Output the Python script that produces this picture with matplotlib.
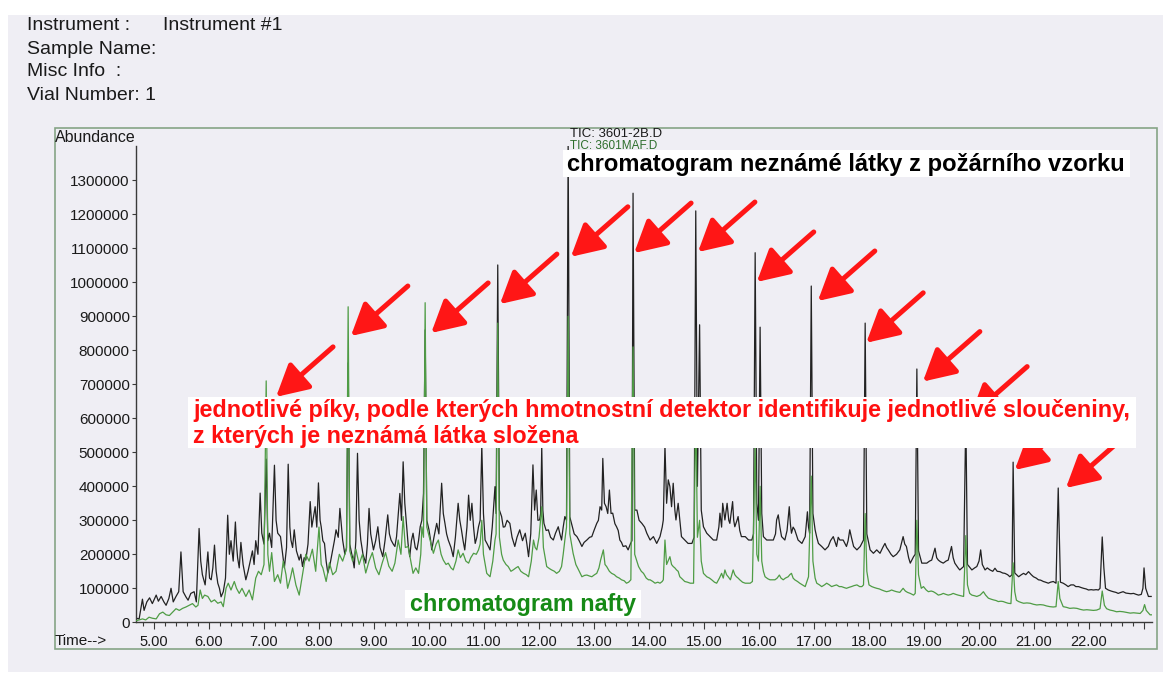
import matplotlib
matplotlib.use('Agg')
import matplotlib.pyplot as plt
from matplotlib.patches import Rectangle
from matplotlib.ticker import MultipleLocator
import numpy as np

W, H = 1163, 684
plt.rcParams['font.family'] = ['Liberation Sans', 'DejaVu Sans']

# ---------------- data ----------------
header_lines = ["Instrument :", "Sample Name:", "Misc Info  :", "Vial Number: 1"]
instrument_name = "Instrument #1"
y_ticks = [0, 100000, 200000, 300000, 400000, 500000, 600000, 700000,
           800000, 900000, 1000000, 1100000, 1200000, 1300000]
x_major = [5, 6, 7, 8, 9, 10, 11, 12, 13, 14, 15, 16, 17, 18, 19, 20, 21, 22, 23]
x_labels = ["5.00", "6.00", "7.00", "8.00", "9.00", "10.00", "11.00", "12.00",
            "13.00", "14.00", "15.00", "16.00", "17.00", "18.00", "19.00",
            "20.00", "21.00", "22.00", ""]

# TIC of the unknown sample (black): (time [min], abundance [thousands])
black_trace = [
    (4.68, 12), (4.73, 10), (4.79, 68), (4.82, 35), (4.87, 60), (4.92, 72), (4.97, 55),
    (5.04, 80), (5.08, 62), (5.13, 76), (5.18, 60), (5.22, 50), (5.27, 70), (5.31, 100),
    (5.35, 60), (5.40, 76), (5.45, 90), (5.49, 207), (5.53, 90), (5.58, 75), (5.62, 65),
    (5.67, 85), (5.73, 90), (5.77, 60), (5.82, 276), (5.85, 180), (5.88, 140), (5.93, 110),
    (5.98, 207), (6.01, 130), (6.04, 125), (6.07, 160), (6.10, 227), (6.13, 150), (6.16, 115),
    (6.19, 100), (6.22, 75), (6.26, 90), (6.30, 130), (6.34, 315), (6.37, 200), (6.40, 240),
    (6.44, 180), (6.48, 295), (6.50, 230), (6.52, 190), (6.55, 160), (6.58, 235), (6.62, 170),
    (6.67, 125), (6.71, 150), (6.75, 180), (6.79, 210), (6.82, 170), (6.85, 240), (6.89, 200),
    (6.93, 380), (6.96, 262), (7.00, 230), (7.04, 480), (7.07, 240), (7.10, 262), (7.14, 220),
    (7.19, 462), (7.22, 300), (7.25, 262), (7.30, 252), (7.34, 200), (7.37, 160), (7.41, 220),
    (7.44, 465), (7.47, 280), (7.49, 242), (7.52, 220), (7.55, 272), (7.59, 210), (7.64, 183),
    (7.67, 200), (7.70, 164), (7.73, 190), (7.76, 183), (7.80, 230), (7.84, 355), (7.87, 280),
    (7.89, 300), (7.93, 340), (7.96, 280), (7.99, 410), (8.02, 300), (8.04, 281), (8.07, 240),
    (8.10, 232), (8.13, 180), (8.16, 145), (8.20, 170), (8.25, 213), (8.28, 240), (8.31, 272),
    (8.35, 250), (8.38, 335), (8.41, 280), (8.43, 242), (8.47, 200), (8.50, 220), (8.53, 763),
    (8.56, 230), (8.58, 213), (8.61, 190), (8.64, 160), (8.67, 240), (8.70, 497), (8.73, 300),
    (8.76, 242), (8.80, 200), (8.85, 174), (8.88, 230), (8.91, 335), (8.94, 260), (8.99, 213),
    (9.03, 240), (9.07, 281), (9.11, 220), (9.16, 193), (9.20, 240), (9.25, 316), (9.28, 260),
    (9.31, 242), (9.35, 230), (9.38, 223), (9.41, 252), (9.47, 379), (9.50, 300), (9.53, 472),
    (9.56, 350), (9.59, 291), (9.62, 230), (9.65, 193), (9.68, 240), (9.71, 262), (9.75, 220),
    (9.78, 213), (9.81, 240), (9.84, 281), (9.87, 300), (9.90, 379), (9.93, 860), (9.96, 300),
    (10.00, 272), (10.03, 240), (10.05, 213), (10.09, 250), (10.14, 291), (10.18, 260),
    (10.23, 409), (10.26, 320), (10.29, 291), (10.32, 260), (10.35, 242), (10.40, 220),
    (10.44, 193), (10.48, 250), (10.53, 350), (10.56, 300), (10.59, 272), (10.62, 240),
    (10.65, 213), (10.69, 280), (10.72, 374), (10.75, 300), (10.78, 350), (10.81, 280),
    (10.84, 232), (10.87, 250), (10.90, 281), (10.93, 300), (10.96, 520), (10.99, 320),
    (11.02, 242), (11.06, 230), (11.11, 213), (11.15, 280), (11.20, 399), (11.22, 320),
    (11.25, 1051), (11.28, 330), (11.32, 311), (11.35, 280), (11.38, 281), (11.42, 300),
    (11.47, 291), (11.51, 250), (11.56, 223), (11.60, 250), (11.65, 272), (11.70, 240),
    (11.75, 262), (11.78, 230), (11.81, 193), (11.85, 260), (11.89, 463), (11.92, 330),
    (11.95, 389), (11.98, 300), (12.01, 301), (12.03, 320), (12.05, 516), (12.07, 330),
    (12.09, 291), (12.13, 270), (12.17, 272), (12.21, 250), (12.26, 242), (12.30, 262),
    (12.35, 281), (12.38, 260), (12.41, 242), (12.44, 280), (12.47, 311), (12.50, 300),
    (12.53, 1410), (12.56, 310), (12.59, 291), (12.64, 260), (12.69, 252), (12.73, 240),
    (12.78, 223), (12.82, 235), (12.87, 242), (12.92, 250), (12.96, 252), (13.00, 270),
    (13.05, 291), (13.08, 300), (13.11, 340), (13.14, 330), (13.16, 482), (13.19, 350),
    (13.22, 340), (13.25, 320), (13.28, 389), (13.31, 320), (13.34, 321), (13.38, 290),
    (13.41, 281), (13.44, 270), (13.47, 242), (13.50, 235), (13.53, 223), (13.58, 225),
    (13.62, 213), (13.66, 230), (13.69, 240), (13.71, 1262), (13.74, 330), (13.78, 330),
    (13.82, 300), (13.87, 291), (13.92, 280), (13.96, 262), (14.02, 242), (14.08, 252),
    (14.14, 232), (14.20, 252), (14.24, 280), (14.26, 301), (14.29, 520), (14.32, 350),
    (14.35, 419), (14.38, 399), (14.41, 340), (14.44, 409), (14.47, 330), (14.49, 301),
    (14.53, 350), (14.56, 300), (14.59, 252), (14.65, 242), (14.71, 232), (14.78, 232),
    (14.82, 250), (14.85, 1210), (14.88, 400), (14.92, 875), (14.95, 330), (14.99, 281),
    (15.05, 262), (15.11, 252), (15.17, 242), (15.23, 242), (15.27, 280), (15.29, 321),
    (15.32, 280), (15.34, 350), (15.38, 301), (15.42, 350), (15.45, 300), (15.47, 291),
    (15.52, 355), (15.54, 300), (15.56, 281), (15.60, 300), (15.62, 311), (15.65, 270),
    (15.68, 252), (15.75, 252), (15.81, 242), (15.87, 242), (15.90, 260), (15.93, 1087),
    (15.96, 350), (15.99, 300), (16.02, 868), (16.05, 320), (16.08, 252), (16.14, 242),
    (16.20, 242), (16.26, 242), (16.30, 260), (16.32, 301), (16.35, 316), (16.38, 280),
    (16.41, 252), (16.47, 242), (16.51, 270), (16.55, 340), (16.57, 290), (16.59, 262),
    (16.62, 280), (16.65, 272), (16.71, 242), (16.78, 232), (16.84, 252), (16.88, 325),
    (16.90, 280), (16.92, 262), (16.95, 989), (16.98, 320), (17.02, 272), (17.05, 250),
    (17.08, 232), (17.14, 223), (17.20, 213), (17.26, 223), (17.30, 240), (17.35, 252),
    (17.41, 223), (17.44, 250), (17.47, 242), (17.53, 242), (17.59, 223), (17.62, 240),
    (17.65, 272), (17.68, 250), (17.72, 223), (17.78, 213), (17.84, 223), (17.90, 242),
    (17.93, 880), (17.96, 260), (18.02, 213), (18.08, 203), (18.14, 213), (18.20, 203),
    (18.25, 220), (18.29, 232), (18.32, 220), (18.35, 213), (18.40, 200), (18.44, 193),
    (18.50, 200), (18.56, 213), (18.62, 252), (18.65, 230), (18.68, 223), (18.72, 190),
    (18.75, 174), (18.81, 193), (18.84, 200), (18.87, 745), (18.90, 210), (18.96, 174),
    (19.05, 174), (19.10, 180), (19.14, 183), (19.20, 218), (19.23, 190), (19.26, 183),
    (19.30, 178), (19.35, 174), (19.40, 180), (19.44, 183), (19.50, 223), (19.53, 190),
    (19.56, 174), (19.62, 160), (19.65, 154), (19.72, 164), (19.76, 610), (19.79, 170),
    (19.87, 154), (19.92, 160), (19.96, 164), (20.00, 180), (20.03, 213), (20.06, 170),
    (20.11, 154), (20.15, 160), (20.20, 154), (20.25, 150), (20.29, 159), (20.33, 150),
    (20.38, 149), (20.43, 145), (20.47, 144), (20.52, 140), (20.56, 134), (20.60, 140),
    (20.62, 471), (20.65, 145), (20.72, 134), (20.77, 140), (20.81, 144), (20.85, 140),
    (20.90, 149), (20.95, 140), (20.99, 134), (21.04, 130), (21.08, 125), (21.12, 124),
    (21.17, 120), (21.21, 118), (21.26, 115), (21.30, 118), (21.35, 120), (21.40, 115),
    (21.44, 395), (21.48, 118), (21.53, 115), (21.58, 110), (21.62, 105), (21.67, 110),
    (21.72, 110), (21.76, 105), (21.81, 105), (21.86, 102), (21.90, 100), (21.95, 98),
    (21.99, 95), (22.04, 96), (22.08, 95), (22.13, 96), (22.17, 95), (22.20, 100),
    (22.24, 251), (22.27, 160), (22.30, 100), (22.35, 95), (22.40, 92), (22.44, 90),
    (22.49, 88), (22.53, 85), (22.58, 88), (22.62, 90), (22.67, 86), (22.72, 85),
    (22.76, 84), (22.81, 85), (22.86, 82), (22.90, 80), (22.95, 82), (22.98, 100),
    (23.00, 160), (23.03, 100), (23.08, 76), (23.13, 76),
]

# TIC of diesel (green): (time [min], abundance [thousands])
green_trace = [
    (4.68, 5), (4.73, 7), (4.79, 10), (4.85, 7), (4.91, 15), (4.97, 12), (5.04, 10),
    (5.10, 25), (5.16, 30), (5.22, 22), (5.28, 20), (5.34, 30), (5.40, 40), (5.46, 35),
    (5.52, 41), (5.58, 45), (5.64, 50), (5.70, 55), (5.76, 45), (5.80, 50), (5.84, 95),
    (5.88, 70), (5.92, 80), (5.98, 76), (6.04, 60), (6.10, 66), (6.16, 56), (6.22, 60),
    (6.26, 46), (6.31, 100), (6.35, 115), (6.40, 95), (6.46, 120), (6.50, 100), (6.55, 85),
    (6.60, 100), (6.67, 76), (6.73, 95), (6.79, 66), (6.85, 130), (6.90, 150), (6.95, 140),
    (7.00, 170), (7.04, 710), (7.07, 200), (7.10, 150), (7.14, 205), (7.19, 120), (7.25, 140),
    (7.30, 115), (7.35, 180), (7.40, 140), (7.43, 100), (7.48, 130), (7.52, 160), (7.58, 110),
    (7.64, 80), (7.70, 140), (7.76, 200), (7.82, 180), (7.88, 215), (7.94, 150), (8.00, 280),
    (8.04, 170), (8.07, 160), (8.13, 120), (8.19, 175), (8.25, 140), (8.31, 150), (8.37, 200),
    (8.43, 180), (8.50, 215), (8.53, 928), (8.56, 210), (8.61, 180), (8.67, 215), (8.73, 170),
    (8.79, 200), (8.85, 145), (8.91, 180), (8.97, 205), (9.03, 160), (9.09, 140), (9.15, 175),
    (9.21, 205), (9.27, 165), (9.33, 150), (9.38, 174), (9.44, 242), (9.49, 200), (9.53, 311),
    (9.57, 220), (9.62, 223), (9.67, 180), (9.71, 144), (9.76, 160), (9.81, 144), (9.85, 200),
    (9.87, 281), (9.90, 250), (9.93, 940), (9.96, 280), (10.02, 242), (10.08, 203),
    (10.13, 230), (10.17, 242), (10.22, 200), (10.26, 183), (10.31, 170), (10.35, 174),
    (10.40, 160), (10.44, 154), (10.49, 180), (10.53, 213), (10.57, 190), (10.62, 203),
    (10.67, 180), (10.72, 174), (10.76, 190), (10.81, 203), (10.86, 200), (10.90, 213),
    (10.93, 230), (10.96, 300), (10.99, 200), (11.05, 144), (11.11, 134), (11.16, 180),
    (11.20, 242), (11.22, 260), (11.25, 880), (11.28, 250), (11.32, 200), (11.35, 183),
    (11.40, 170), (11.44, 164), (11.49, 150), (11.53, 154), (11.58, 160), (11.62, 164),
    (11.67, 150), (11.72, 144), (11.77, 140), (11.81, 134), (11.86, 180), (11.90, 242),
    (11.93, 220), (11.96, 213), (12.00, 250), (12.05, 340), (12.08, 220), (12.14, 164),
    (12.19, 158), (12.23, 154), (12.28, 150), (12.32, 144), (12.37, 150), (12.41, 164),
    (12.44, 200), (12.47, 242), (12.50, 280), (12.53, 900), (12.56, 260), (12.62, 203),
    (12.67, 170), (12.72, 154), (12.78, 134), (12.83, 138), (12.87, 139), (12.92, 136),
    (12.96, 134), (13.01, 140), (13.05, 144), (13.09, 160), (13.12, 183), (13.17, 213),
    (13.20, 170), (13.23, 164), (13.28, 150), (13.32, 144), (13.37, 140), (13.41, 134),
    (13.46, 130), (13.50, 125), (13.55, 122), (13.59, 115), (13.63, 118), (13.67, 125),
    (13.71, 810), (13.74, 200), (13.78, 180), (13.81, 164), (13.86, 150), (13.90, 144),
    (13.95, 130), (13.99, 125), (14.02, 125), (14.07, 120), (14.11, 115), (14.16, 118),
    (14.20, 115), (14.24, 120), (14.26, 125), (14.29, 242), (14.32, 170), (14.38, 193),
    (14.41, 170), (14.44, 164), (14.47, 160), (14.50, 154), (14.53, 150), (14.56, 134),
    (14.60, 128), (14.65, 120), (14.70, 118), (14.75, 115), (14.81, 115), (14.85, 650),
    (14.88, 250), (14.92, 300), (14.95, 180), (14.99, 144), (15.05, 134), (15.10, 130),
    (15.14, 125), (15.19, 118), (15.23, 115), (15.28, 130), (15.32, 144), (15.35, 130),
    (15.38, 154), (15.41, 140), (15.44, 134), (15.48, 125), (15.53, 154), (15.56, 140),
    (15.59, 134), (15.62, 130), (15.65, 125), (15.70, 118), (15.75, 115), (15.80, 115),
    (15.84, 115), (15.88, 120), (15.93, 520), (15.96, 200), (15.99, 180), (16.02, 400),
    (16.05, 180), (16.08, 150), (16.11, 134), (16.16, 128), (16.20, 125), (16.25, 125),
    (16.29, 125), (16.33, 130), (16.37, 139), (16.40, 130), (16.44, 125), (16.48, 130),
    (16.53, 134), (16.56, 140), (16.59, 144), (16.62, 130), (16.65, 125), (16.70, 120),
    (16.74, 115), (16.79, 110), (16.84, 105), (16.88, 125), (16.90, 134), (16.95, 430),
    (16.98, 180), (17.02, 130), (17.05, 115), (17.10, 110), (17.14, 105), (17.19, 110),
    (17.23, 115), (17.28, 110), (17.32, 105), (17.37, 108), (17.41, 110), (17.46, 105),
    (17.50, 105), (17.55, 102), (17.59, 100), (17.64, 103), (17.68, 105), (17.73, 108),
    (17.78, 110), (17.83, 105), (17.87, 105), (17.90, 110), (17.93, 320), (17.96, 150),
    (18.00, 110), (18.05, 105), (18.10, 102), (18.14, 100), (18.19, 98), (18.23, 95),
    (18.28, 92), (18.32, 90), (18.37, 92), (18.41, 95), (18.46, 92), (18.50, 90),
    (18.56, 88), (18.62, 100), (18.66, 92), (18.70, 88), (18.75, 85), (18.81, 80),
    (18.84, 85), (18.87, 300), (18.90, 140), (18.95, 100), (18.99, 105), (19.04, 95),
    (19.08, 90), (19.13, 92), (19.17, 90), (19.22, 85), (19.26, 80), (19.31, 82),
    (19.35, 85), (19.40, 82), (19.44, 80), (19.49, 82), (19.53, 85), (19.58, 82),
    (19.62, 80), (19.67, 78), (19.72, 76), (19.76, 255), (19.79, 110), (19.83, 85),
    (19.87, 80), (19.92, 78), (19.96, 76), (20.02, 80), (20.08, 90), (20.12, 80),
    (20.17, 71), (20.22, 68), (20.26, 66), (20.31, 64), (20.35, 61), (20.40, 62),
    (20.44, 61), (20.49, 58), (20.53, 56), (20.58, 55), (20.62, 175), (20.65, 90),
    (20.68, 65), (20.72, 61), (20.77, 58), (20.81, 56), (20.87, 57), (20.93, 56),
    (20.99, 53), (21.05, 51), (21.11, 52), (21.17, 51), (21.23, 48), (21.29, 46),
    (21.35, 45), (21.40, 46), (21.44, 120), (21.47, 70), (21.53, 46), (21.59, 44),
    (21.65, 41), (21.72, 42), (21.78, 41), (21.84, 38), (21.90, 36), (21.96, 37),
    (22.02, 36), (22.08, 35), (22.14, 36), (22.20, 40), (22.24, 92), (22.28, 50),
    (22.32, 40), (22.38, 36), (22.44, 34), (22.50, 31), (22.56, 32), (22.62, 31),
    (22.68, 29), (22.75, 27), (22.81, 28), (22.87, 27), (22.93, 26), (22.98, 35),
    (23.01, 52), (23.04, 35), (23.11, 22), (23.14, 22),
]

# red arrows pointing at the individual peaks: (time [min], abundance [thousands])
arrow_targets = [(7.22, 663), (8.58, 842), (10.04, 851), (11.29, 936), (12.58, 1075),
                 (13.73, 1086), (14.89, 1089), (15.96, 1001), (17.07, 945), (17.95, 822),
                 (18.98, 708), (19.84, 605), (20.65, 448), (21.58, 395)]

title_text = "chromatogram neznámé látky z požárního vzorku"
red_line1 = "jednotlivé píky, podle kterých hmotnostní detektor identifikuje jednotlivé sloučeniny,"
red_line2 = "z kterých je neznámá látka složena"
green_text = "chromatogram nafty"

# ---------------- figure ----------------
def fx(x):
    return x / W


def fy(y):
    return 1 - y / H


fig = plt.figure(figsize=(W / 100, H / 100), dpi=100, facecolor='white')


def fig_rect(x0, y0, x1, y1, **kw):
    r = Rectangle((fx(x0), fy(y1)), fx(x1) - fx(x0), fy(y0) - fy(y1),
                  transform=fig.transFigure, **kw)
    fig.patches.append(r)
    return r


# scanned paper background and outer frame
fig_rect(8, 15, 1163, 672, facecolor='#efeef4', edgecolor='none', zorder=-10)
fig_rect(55, 128, 1157, 649, facecolor='none', edgecolor='#86a486', lw=1.2, zorder=-5)

ax = fig.add_axes([fx(136), fy(622.3), fx(1152) - fx(136), fy(146.3) - fy(622.3)])
ax.set_facecolor('none')

bt, bv = zip(*black_trace)
gt, gv = zip(*green_trace)
ax.plot(bt, np.array(bv) * 1000, color='#222222', lw=0.9, zorder=2)
ax.plot(gt, np.array(gv) * 1000, color='#4f9c45', lw=0.9, zorder=3)

ax.set_xlim(4.673, 23.145)
ax.set_ylim(0, 1400000)
for s in ('top', 'right'):
    ax.spines[s].set_visible(False)
for s in ('left', 'bottom'):
    ax.spines[s].set_color('#3a3a3a')
    ax.spines[s].set_linewidth(1.0)

ax.set_yticks(y_ticks)
ax.set_yticklabels([str(v) for v in y_ticks])
ax.tick_params(axis='y', length=3, width=0.8, pad=1.5, labelsize=11,
               colors='#3a3a3a', labelcolor='#1a1a1a')
ax.set_xticks(x_major)
ax.set_xticklabels(x_labels)
ax.xaxis.set_minor_locator(MultipleLocator(0.2))
ax.tick_params(axis='x', which='major', length=5, width=0.8, pad=4, labelsize=10.5,
               colors='#3a3a3a', labelcolor='#1a1a1a')
ax.tick_params(axis='x', which='minor', length=3, width=0.8, colors='#3a3a3a')

for t, k in arrow_targets:
    ax.annotate('', xy=(t, k * 1000), xytext=(41, 36), textcoords='offset points',
                arrowprops=dict(arrowstyle='-|>,head_length=1.2,head_width=0.65',
                                mutation_scale=16, lw=3.6, color='#ff1616',
                                shrinkA=0, shrinkB=0),
                annotation_clip=False, zorder=4)

# header
for i, line in enumerate(header_lines):
    fig.text(fx(27), fy(26 + 23 * i), line, fontsize=14, va='center', ha='left',
             color='#1a1a1a')
fig.text(fx(163), fy(26), instrument_name, fontsize=14, va='center', ha='left',
         color='#1a1a1a')

fig.text(fx(55), fy(137), "Abundance", fontsize=11.5, va='center', ha='left', color='#1a1a1a')
fig.text(fx(55), fy(641), "Time-->", fontsize=11, va='center', ha='left', color='#1a1a1a')

fig.text(fx(570), fy(134), "TIC: 3601-2B.D", fontsize=9.5, va='center', ha='left',
         color='#1a1a1a')
# second TIC line: only its upper part shows above the title box
tic2 = fig.text(fx(570), fy(146), "TIC: 3601MAF.D", fontsize=8.5, va='center', ha='left',
                color='#2d6e2d', zorder=3)
tic2_clip = Rectangle((fx(560), fy(150)), fx(700) - fx(560), fy(138) - fy(150),
                      transform=fig.transFigure, visible=False)
fig.patches.append(tic2_clip)
tic2.set_clip_path(tic2_clip)

# white label boxes
fig_rect(563, 150, 1130, 177, facecolor='white', edgecolor='none', zorder=5)
fig_rect(188, 397, 1136, 448, facecolor='white', edgecolor='none', zorder=5)
fig_rect(405, 590, 641, 618, facecolor='white', edgecolor='none', zorder=5)

t_title = fig.text(fx(567), fy(164), title_text, fontsize=14, fontweight='bold',
                   va='center', ha='left', color='black', zorder=6)
t_red1 = fig.text(fx(193), fy(411), red_line1, fontsize=14, fontweight='bold',
                  va='center', ha='left', color='#ff1010', zorder=6)
t_red2 = fig.text(fx(193), fy(437), red_line2, fontsize=14, fontweight='bold',
                  va='center', ha='left', color='#ff1010', zorder=6)
t_green = fig.text(fx(410), fy(604), green_text, fontsize=14, fontweight='bold',
                   va='center', ha='left', color='#168a16', zorder=6)

renderer = fig.canvas.get_renderer()


def fit(txt, width_px):
    bb = txt.get_window_extent(renderer)
    return txt.get_fontsize() * width_px / bb.width


t_title.set_fontsize(fit(t_title, 558))
fs_red = fit(t_red1, 940)
t_red1.set_fontsize(fs_red)
t_red2.set_fontsize(fs_red)
t_green.set_fontsize(fit(t_green, 227))

fig.savefig('out.png', dpi=100, facecolor=fig.get_facecolor())
